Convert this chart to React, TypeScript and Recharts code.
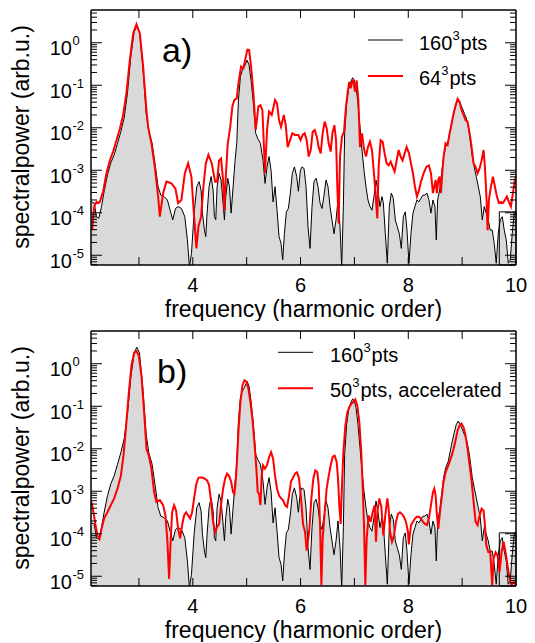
import React from 'react';
import { ComposedChart, Area, Line, XAxis, YAxis, ReferenceArea } from 'recharts';

type Pt = [number, number];
const FONT = '"Liberation Sans", Arial, Helvetica, sans-serif';

// frequency (harmonic order), spectral power (arb.u.)
const spectrum160: Pt[] = [
  [2.12,1.8e-4],[2.17,1.7e-4],[2.21,8.1e-5],[2.255,7.4e-5],[2.305,1.4e-4],[2.354,3.2e-4],[2.416,7.8e-4],[2.478,1.5e-3],
  [2.54,2.3e-3],[2.602,4.3e-3],[2.664,8.1e-3],[2.725,1.7e-2],[2.787,6.5e-2],[2.849,0.47],[2.911,1.8],[2.96,2.45],
  [3.01,1.8],[3.072,0.275],[3.134,2.2e-2],[3.183,8.1e-3],[3.245,4.3e-3],[3.307,1.2e-3],[3.356,4.1e-4],[3.406,2.6e-4],
  [3.468,2.4e-4],[3.529,2.0e-4],[3.579,1.15e-4],[3.628,6.8e-5],[3.678,1.26e-4],[3.727,1.4e-4],[3.789,1.26e-4],[3.851,8.1e-5],
  [3.9,2.3e-5],[3.937,5.4e-6],[3.975,1.1e-5],[4.024,9.8e-5],[4.074,4.1e-4],[4.117,5.4e-4],[4.154,3.4e-4],[4.179,9.8e-5],
  [4.216,3.9e-5],[4.241,2.75e-5],[4.265,9.8e-5],[4.302,4.1e-4],[4.34,7.1e-4],[4.377,3.4e-4],[4.401,8.1e-5],[4.426,6.8e-5],
  [4.451,4.1e-4],[4.488,8.5e-4],[4.525,5.9e-4],[4.562,1.7e-4],[4.587,6.8e-5],[4.612,2.4e-4],[4.649,6.5e-4],[4.68,4.1e-4],
  [4.711,9.8e-5],[4.748,4.1e-4],[4.785,1.7e-3],[4.816,4.3e-3],[4.847,4.5e-2],[4.884,0.16],[4.921,0.23],[4.958,0.275],
  [5.007,0.39],[5.044,0.3],[5.082,0.13],[5.125,3.7e-2],[5.168,7.4e-3],[5.205,5.6e-3],[5.255,4.3e-3],[5.304,1.7e-3],
  [5.341,4.9e-4],[5.378,1.2e-3],[5.415,2.1e-3],[5.453,1.0e-3],[5.49,1.8e-4],[5.527,4.1e-4],[5.564,1.15e-4],[5.601,2.75e-5],
  [5.638,1.9e-5],[5.669,7.8e-6],[5.7,3.2e-5],[5.737,1.05e-4],[5.774,1.26e-4],[5.811,2.9e-4],[5.848,8.5e-4],[5.886,1.2e-3],
  [5.929,7.1e-4],[5.96,3.2e-4],[5.997,1.0e-3],[6.028,1.2e-3],[6.065,1.1e-3],[6.102,4.1e-4],[6.139,4.7e-5],[6.176,1.45e-5],
  [6.213,1.4e-4],[6.25,5.4e-4],[6.288,6.5e-4],[6.325,4.1e-4],[6.362,1.7e-4],[6.399,1.26e-4],[6.436,2.6e-4],[6.473,5.9e-4],
  [6.51,4.1e-4],[6.547,1.4e-4],[6.584,6.8e-5],[6.621,3.2e-5],[6.659,6.8e-5],[6.696,2.0e-4],[6.733,4.7e-5],[6.764,5.4e-6],
  [6.795,1.4e-4],[6.819,7.4e-3],[6.856,3.7e-2],[6.894,8.5e-2],[6.931,0.12],[6.968,0.15],[6.999,0.13],[7.03,9.3e-2],
  [7.067,3.7e-2],[7.104,1.05e-2],[7.141,3.0e-3],[7.178,1.0e-3],[7.215,4.1e-4],[7.252,2.0e-4],[7.289,1.4e-4],[7.326,1.15e-4],
  [7.363,2.4e-4],[7.401,5.9e-4],[7.438,3.2e-4],[7.475,1.4e-4],[7.512,2.4e-4],[7.537,1.7e-4],[7.574,3.2e-5],[7.611,6.5e-6],
  [7.648,1.4e-4],[7.685,2.9e-4],[7.722,2.2e-4],[7.759,6.8e-5],[7.796,4.7e-5],[7.834,3.2e-5],[7.871,1.45e-5],[7.908,8.1e-5],
  [7.945,1.05e-4],[7.976,3.9e-5],[8.013,6.5e-6],[8.05,3.2e-5],[8.087,9.8e-5],[8.124,1.4e-4],[8.161,2.0e-4],[8.199,1.8e-4],
  [8.236,2.2e-4],[8.273,2.6e-4],[8.31,2.6e-4],[8.347,2.9e-4],[8.384,2.0e-4],[8.421,9.8e-5],[8.458,2.0e-4],[8.495,1.4e-4],
  [8.52,2.3e-5],[8.545,2.0e-4],[8.582,3.4e-4],[8.619,8.5e-4],[8.656,2.1e-3],[8.693,3.5e-3],[8.743,5.1e-3],[8.78,8.9e-3],
  [8.817,1.5e-2],[8.854,2.4e-2],[8.891,3.7e-2],[8.928,4.5e-2],[8.965,3.7e-2],[9.002,2.9e-2],[9.04,2.2e-2],[9.077,1.7e-2],
  [9.114,1.05e-2],[9.151,5.1e-3],[9.188,2.1e-3],[9.225,1.2e-3],[9.262,7.1e-4],[9.3,4.1e-4],[9.337,2.4e-4],[9.374,6.8e-5],
  [9.411,1.4e-4],[9.448,9.8e-5],[9.485,6.8e-5],[9.522,3.9e-5],[9.559,3.9e-5],[9.596,1.9e-5],[9.633,6.5e-6],[9.67,3.2e-5],
  [9.708,6.8e-5],[9.745,8.1e-5],[9.782,3.9e-5],[9.819,2.3e-5],[9.856,6.5e-6],[9.893,7.8e-6],[9.93,3.2e-5],[9.967,9.8e-5],
  [10.0,1.15e-4],
];

const spectrum64: Pt[] = [
  [2.132,3.9e-5],[2.17,1.4e-4],[2.212,1.8e-4],[2.25,1.7e-4],[2.274,1.8e-4],[2.336,3.2e-4],[2.397,8.5e-4],[2.46,1.7e-3],
  [2.521,2.75e-3],[2.583,5.1e-3],[2.646,9.5e-3],[2.707,2.0e-2],[2.768,6.5e-2],[2.831,0.39],[2.892,1.66],[2.954,2.75],
  [3.017,1.66],[3.078,0.275],[3.139,2.6e-2],[3.171,1.05e-2],[3.232,4.3e-3],[3.295,1.2e-3],[3.356,2.4e-4],[3.388,8.1e-5],
  [3.449,2.9e-4],[3.51,5.4e-4],[3.603,4.9e-4],[3.677,3.7e-4],[3.727,1.7e-4],[3.788,2.0e-4],[3.852,8.5e-4],[3.913,1.45e-3],
  [3.974,7.1e-4],[4.024,8.1e-5],[4.067,1.45e-5],[4.104,4.7e-5],[4.154,8.1e-5],[4.197,4.1e-4],[4.241,1.45e-3],[4.29,2.3e-3],
  [4.352,1.45e-3],[4.414,5.4e-4],[4.451,5.4e-4],[4.488,1.7e-3],[4.525,1.9e-3],[4.562,5.9e-4],[4.587,1.15e-4],[4.612,7.1e-4],
  [4.649,4.3e-3],[4.692,9.8e-3],[4.735,3.2e-2],[4.772,4.5e-2],[4.816,4.9e-2],[4.847,0.11],[4.896,0.275],[4.939,0.25],
  [4.97,0.39],[5.013,0.69],[5.044,0.68],[5.082,0.275],[5.125,6.5e-2],[5.168,8.9e-3],[5.218,3.2e-2],[5.255,3.4e-2],
  [5.292,2.6e-2],[5.341,8.5e-4],[5.378,8.9e-3],[5.415,2.4e-2],[5.465,2.0e-2],[5.527,4.5e-2],[5.564,3.7e-2],[5.601,1.5e-2],
  [5.638,1.05e-2],[5.688,2.0e-2],[5.725,1.15e-2],[5.762,3.5e-3],[5.805,5.1e-3],[5.848,7.4e-3],[5.898,6.8e-3],[5.96,6.8e-3],
  [6.0,5.1e-3],[6.04,6.8e-3],[6.077,7.4e-3],[6.114,5.1e-3],[6.152,2.1e-3],[6.189,3.0e-3],[6.226,8.1e-3],[6.263,8.9e-3],
  [6.3,6.2e-3],[6.337,3.5e-3],[6.374,2.5e-3],[6.411,7.4e-3],[6.448,1.4e-2],[6.485,9.8e-3],[6.522,4.3e-3],[6.56,2.75e-3],
  [6.591,7.4e-3],[6.628,1.15e-2],[6.659,5.1e-3],[6.683,4.1e-4],[6.708,5.6e-5],[6.733,2.1e-3],[6.77,6.2e-3],[6.807,8.1e-3],
  [6.844,3.2e-2],[6.881,7.8e-2],[6.906,0.12],[6.931,8.5e-2],[6.955,0.12],[6.98,0.13],[7.011,7.1e-2],[7.042,0.13],
  [7.073,4.5e-2],[7.104,3.5e-3],[7.141,7.4e-3],[7.178,3.2e-3],[7.215,2.1e-3],[7.252,3.5e-3],[7.289,4.7e-3],[7.326,3.0e-3],
  [7.363,8.5e-4],[7.401,2.0e-4],[7.425,7.4e-5],[7.45,1.2e-3],[7.487,5.1e-3],[7.524,4.7e-3],[7.561,2.5e-3],[7.599,1.45e-3],
  [7.636,1.3e-3],[7.673,1.6e-3],[7.71,1.2e-3],[7.747,9.3e-4],[7.784,1.7e-3],[7.821,3.0e-3],[7.858,2.1e-3],[7.895,1.7e-3],
  [7.933,2.5e-3],[7.97,3.5e-3],[8.013,2.5e-3],[8.05,1.45e-3],[8.087,8.5e-4],[8.124,4.1e-4],[8.161,2.4e-4],[8.199,3.4e-4],
  [8.236,5.4e-4],[8.285,8.5e-4],[8.335,1.2e-3],[8.384,1.3e-3],[8.421,8.5e-4],[8.458,2.9e-4],[8.483,4.1e-4],[8.508,5.9e-4],
  [8.532,2.9e-4],[8.557,5.9e-4],[8.582,7.1e-4],[8.607,2.9e-4],[8.631,8.5e-4],[8.656,2.1e-3],[8.693,4.3e-3],[8.73,3.9e-3],
  [8.768,7.4e-3],[8.805,1.26e-2],[8.842,2.2e-2],[8.879,3.4e-2],[8.916,4.8e-2],[8.953,4.1e-2],[8.99,2.6e-2],[9.027,2.0e-2],
  [9.064,1.5e-2],[9.101,1.4e-2],[9.139,7.4e-3],[9.176,3.5e-3],[9.213,1.45e-3],[9.25,1.2e-3],[9.287,8.5e-4],[9.324,1.1e-3],
  [9.361,1.7e-3],[9.398,3.0e-3],[9.423,1.2e-3],[9.448,2.9e-4],[9.473,3.9e-5],[9.497,2.0e-4],[9.534,4.1e-4],[9.572,7.1e-4],
  [9.609,4.1e-4],[9.646,2.4e-4],[9.683,1.7e-4],[9.72,1.8e-4],[9.757,1.7e-4],[9.794,2.0e-4],[9.831,2.4e-4],[9.868,1.8e-4],
  [9.905,1.4e-4],[9.943,2.9e-4],[9.98,5.9e-4],[10.0,7.1e-4],
];

const spectrum50acc: Pt[] = [
  [2.119,5.6e-4],[2.156,3.2e-4],[2.194,1.6e-4],[2.231,9.1e-5],[2.268,7.6e-5],[2.305,1.3e-4],[2.354,2.3e-4],[2.416,3.2e-4],
  [2.478,4.7e-4],[2.54,6.8e-4],[2.602,1.15e-3],[2.664,2.3e-3],[2.713,6.9e-3],[2.762,3.5e-2],[2.812,0.21],[2.861,0.91],
  [2.911,1.8],[2.954,2.0],[2.997,1.55],[3.047,0.52],[3.096,7.2e-2],[3.14,1.0e-2],[3.183,6.9e-3],[3.232,3.4e-3],
  [3.282,9.5e-4],[3.325,5.6e-4],[3.387,6.2e-4],[3.449,4.7e-4],[3.492,2.7e-4],[3.529,6.5e-5],[3.56,8.7e-6],[3.591,7.8e-5],
  [3.616,3.2e-4],[3.653,4.7e-4],[3.69,3.5e-4],[3.727,1.3e-4],[3.764,7.8e-5],[3.801,1.6e-4],[3.838,2.7e-4],[3.876,3.2e-4],
  [3.913,2.7e-4],[3.95,2.3e-4],[3.987,3.2e-4],[4.024,6.8e-4],[4.061,1.4e-3],[4.098,2.0e-3],[4.117,2.1e-3],[4.166,2.1e-3],
  [4.216,2.0e-3],[4.265,1.8e-3],[4.302,1.4e-3],[4.34,5.6e-4],[4.377,1.9e-4],[4.414,1.1e-4],[4.451,1.45e-4],[4.488,1.7e-4],
  [4.525,4.7e-4],[4.562,1.15e-3],[4.6,2.0e-3],[4.636,2.6e-3],[4.673,2.3e-3],[4.711,1.7e-3],[4.748,9.5e-4],[4.772,8.7e-4],
  [4.797,1.7e-3],[4.822,5.9e-3],[4.847,2.5e-2],[4.884,0.126],[4.921,0.31],[4.958,0.41],[4.995,0.38],[5.032,0.26],
  [5.069,0.126],[5.106,5.1e-2],[5.143,1.45e-2],[5.18,3.4e-3],[5.205,9.5e-4],[5.23,8.7e-4],[5.255,4.7e-4],[5.279,2.3e-3],
  [5.304,4.1e-3],[5.341,3.4e-3],[5.378,4.1e-3],[5.415,6.3e-3],[5.453,8.3e-3],[5.49,5.9e-3],[5.527,2.3e-3],[5.564,1.15e-3],
  [5.601,7.9e-4],[5.638,6.8e-4],[5.675,6.2e-4],[5.712,4.7e-4],[5.749,4.3e-4],[5.786,7.9e-4],[5.823,1.7e-3],[5.861,2.1e-3],
  [5.898,2.6e-3],[5.935,2.8e-3],[5.972,2.0e-3],[6.009,6.8e-4],[6.046,1.7e-4],[6.083,1.1e-4],[6.115,4.0e-5],[6.145,7.9e-5],
  [6.164,1.3e-4],[6.201,6.8e-4],[6.238,2.0e-3],[6.275,3.1e-3],[6.312,2.8e-3],[6.337,1.4e-3],[6.362,1.6e-4],[6.387,6.2e-6],
  [6.411,7.8e-5],[6.448,3.2e-4],[6.485,1.15e-3],[6.523,2.3e-3],[6.56,4.1e-3],[6.597,6.5e-3],[6.634,6.9e-3],[6.671,4.9e-3],
  [6.696,2.0e-3],[6.72,4.7e-4],[6.745,1.7e-4],[6.77,1.4e-3],[6.795,8.3e-3],[6.832,3.5e-2],[6.869,7.2e-2],[6.906,9.5e-2],
  [6.943,0.115],[6.98,0.126],[7.017,0.145],[7.054,0.105],[7.091,4.3e-2],[7.128,8.3e-3],[7.153,1.4e-3],[7.178,1.6e-4],
  [7.203,6.2e-6],[7.228,7.8e-5],[7.265,2.7e-4],[7.302,1.9e-4],[7.339,3.2e-4],[7.376,4.7e-4],[7.401,6.5e-5],[7.426,3.2e-4],
  [7.463,6.8e-4],[7.5,4.3e-4],[7.537,9.1e-5],[7.574,2.7e-4],[7.611,6.8e-4],[7.636,3.9e-4],[7.661,1.1e-4],[7.698,6.5e-5],
  [7.735,9.1e-5],[7.772,1.9e-4],[7.809,2.9e-4],[7.846,3.2e-4],[7.883,2.9e-4],[7.92,2.5e-4],[7.957,1.9e-4],[7.994,1.1e-4],
  [8.01,5.6e-5],[8.05,1.6e-4],[8.087,1.9e-4],[8.124,2.3e-4],[8.161,2.5e-4],[8.199,2.5e-4],[8.236,2.3e-4],[8.273,1.9e-4],
  [8.31,1.7e-4],[8.347,1.6e-4],[8.384,2.3e-4],[8.421,4.7e-4],[8.458,9.5e-4],[8.483,1.15e-3],[8.508,7.9e-4],[8.532,2.7e-4],
  [8.557,1.3e-4],[8.582,2.7e-4],[8.619,6.8e-4],[8.656,1.7e-3],[8.693,2.8e-3],[8.73,3.7e-3],[8.768,4.9e-3],[8.805,6.9e-3],
  [8.842,1.0e-2],[8.879,1.6e-2],[8.916,2.7e-2],[8.953,3.5e-2],[8.99,3.9e-2],[9.027,3.2e-2],[9.064,2.0e-2],[9.101,1.0e-2],
  [9.139,4.1e-3],[9.176,1.7e-3],[9.213,5.6e-4],[9.25,1.9e-4],[9.287,1.6e-4],[9.324,2.7e-4],[9.361,3.9e-4],[9.398,3.5e-4],
  [9.423,1.6e-4],[9.448,5.4e-5],[9.485,3.7e-5],[9.522,3.7e-5],[9.559,6.2e-6],[9.584,2.6e-5],[9.621,3.7e-5],[9.658,3.1e-5],
  [9.695,1.26e-5],[9.732,3.7e-5],[9.769,6.5e-5],[9.806,3.7e-5],[9.843,1.8e-5],[9.88,8.7e-6],[9.917,6.2e-6],[9.955,7.4e-6],
  [10.0,6.3e-6],
];

const X_DOMAIN: [number, number] = [2.11, 10];
const X_TICKS = [3, 4, 5, 6, 7, 8, 9, 10];
const X_LABELS = [4, 6, 8, 10];
const Y_DOMAIN: [number, number] = [5.9e-6, 5.9];
const Y_DECADES = [1e-6, 1e-5, 1e-4, 1e-3, 1e-2, 1e-1, 1];
const Y_MANTISSAS = [1, 2, 3, 4, 5, 6, 7, 8, 9];
const Y_TICKS = Y_DECADES.flatMap((d) => Y_MANTISSAS.map((m) => m * d)).filter(
  (v) => v >= Y_DOMAIN[0] && v <= Y_DOMAIN[1]
);
const ARTIFACT_BOX = { x1: 9.69, x2: 10, yTop: 1.05e-4 };

const toRows = (pts: Pt[]) => pts.map(([f, p]) => ({ f, p }));

const isDecade = (v: number) => {
  const lg = Math.log10(v);
  return Math.abs(lg - Math.round(lg)) < 1e-6;
};

const BottomTick = (props: any) => {
  const { x, y, payload } = props;
  const v = payload.value;
  return (
    <g>
      {v < X_DOMAIN[1] && <line x1={x} x2={x} y1={y} y2={y - 8} stroke="#000" strokeWidth={1} />}
      {X_LABELS.includes(v) && (
        <text x={x} y={y + 26.5} textAnchor="middle" fontSize={20} fontFamily={FONT} fill="#000">
          {v}
        </text>
      )}
    </g>
  );
};

const TopTick = (props: any) => {
  const { x, y, payload } = props;
  if (payload.value >= X_DOMAIN[1]) return <g />;
  return <line x1={x} x2={x} y1={y} y2={y + 8} stroke="#000" strokeWidth={1} />;
};

const LeftTick = (props: any) => {
  const { x, y, payload } = props;
  const v = payload.value;
  const major = isDecade(v);
  const exp = Math.round(Math.log10(v));
  return (
    <g>
      <line x1={x} x2={x + (major ? 11 : 6)} y1={y} y2={y} stroke="#000" strokeWidth={1} />
      {major && (
        <g fontFamily={FONT} fill="#000">
          <text x={x - 19} y={y + 12.5} textAnchor="end" fontSize={20}>10</text>
          <text x={x - 18.5} y={y + 2.5} textAnchor="start" fontSize={13}>{String(exp)}</text>
        </g>
      )}
    </g>
  );
};

const RightTick = (props: any) => {
  const { x, y, payload } = props;
  const major = isDecade(payload.value);
  return <line x1={x} x2={x - (major ? 11 : 6)} y1={y} y2={y} stroke="#000" strokeWidth={1} />;
};

type PanelProps = {
  redData: Pt[];
  redLabelMain: string;
  redLabelRest: string;
  panelLabel: string;
  panelLabelX: number;
  legendLineX: [number, number];
  legendTextX: number;
  legendY: [number, number];
};

const Panel = ({ redData, redLabelMain, redLabelRest, panelLabel, panelLabelX, legendLineX, legendTextX, legendY }: PanelProps) => {
  const blackRows = toRows(spectrum160);
  const redRows = toRows(redData);
  const axisLine = { stroke: '#000', strokeWidth: 1.5 };
  return (
    <ComposedChart width={535} height={321} margin={{ top: 0, right: 0, bottom: 0, left: 0 }}>
      <XAxis
        xAxisId="bottom"
        type="number"
        dataKey="f"
        orientation="bottom"
        domain={X_DOMAIN}
        allowDataOverflow
        ticks={X_TICKS}
        interval={0}
        height={56}
        tickSize={0}
        tickMargin={0}
        tickLine={false}
        axisLine={axisLine}
        tick={<BottomTick />}
      />
      <XAxis
        xAxisId="top"
        type="number"
        dataKey="f"
        orientation="top"
        domain={X_DOMAIN}
        allowDataOverflow
        ticks={X_TICKS}
        interval={0}
        height={10}
        tickSize={0}
        tickMargin={0}
        tickLine={false}
        axisLine={axisLine}
        tick={<TopTick />}
      />
      <YAxis
        yAxisId="left"
        orientation="left"
        scale="log"
        type="number"
        domain={Y_DOMAIN}
        allowDataOverflow
        ticks={Y_TICKS}
        interval={0}
        width={91}
        tickSize={0}
        tickMargin={0}
        tickLine={false}
        axisLine={axisLine}
        tick={<LeftTick />}
      />
      <YAxis
        yAxisId="right"
        orientation="right"
        scale="log"
        type="number"
        domain={Y_DOMAIN}
        allowDataOverflow
        ticks={Y_TICKS}
        interval={0}
        width={19}
        tickSize={0}
        tickMargin={0}
        tickLine={false}
        axisLine={axisLine}
        tick={<RightTick />}
      />
      <Area
        xAxisId="bottom"
        yAxisId="left"
        data={blackRows}
        dataKey="p"
        type="linear"
        stroke="#000"
        strokeWidth={1}
        fill="#d9d9d9"
        fillOpacity={1}
        baseValue="dataMin"
        dot={false}
        activeDot={false}
        isAnimationActive={false}
      />
      <ReferenceArea
        xAxisId="bottom"
        yAxisId="left"
        x1={ARTIFACT_BOX.x1}
        x2={ARTIFACT_BOX.x2}
        y1={Y_DOMAIN[0]}
        y2={ARTIFACT_BOX.yTop}
        fill="none"
        stroke="#000"
        strokeWidth={1}
      />
      <Line
        xAxisId="top"
        yAxisId="right"
        data={redRows}
        dataKey="p"
        type="linear"
        stroke="#ff0000"
        strokeWidth={2}
        dot={false}
        activeDot={false}
        isAnimationActive={false}
      />
      <text x={panelLabelX} y={62} fontSize={34} fontFamily={FONT} fill="#000">{panelLabel}</text>
      <text
        x={28.5}
        y={137}
        transform="rotate(-90 28.5 137)"
        textAnchor="middle"
        fontSize={23}
        fontFamily={FONT}
        fill="#000"
      >
        spectralpower (arb.u.)
      </text>
      <text x={303.5} y={317} textAnchor="middle" fontSize={23} fontFamily={FONT} fill="#000">
        frequency (harmonic order)
      </text>
      <g fontFamily={FONT} fill="#000">
        <line x1={legendLineX[0]} x2={legendLineX[1]} y1={legendY[0]} y2={legendY[0]} stroke="#000" strokeWidth={1} />
        <text x={legendTextX} y={legendY[0] + 9.5} fontSize={20}>
          160<tspan dy={-10} fontSize={13}>3</tspan><tspan dy={10} dx={1}>pts</tspan>
        </text>
        <line x1={legendLineX[0]} x2={legendLineX[1]} y1={legendY[1]} y2={legendY[1]} stroke="#ff0000" strokeWidth={2} />
        <text x={legendTextX} y={legendY[1] + 9} fontSize={20}>
          {redLabelMain}<tspan dy={-10} fontSize={13}>3</tspan><tspan dy={10} dx={1}>{redLabelRest}</tspan>
        </text>
      </g>
    </ComposedChart>
  );
};

export default function App() {
  return (
    <div style={{ position: 'absolute', left: 0, top: 0, width: 535, height: 643, background: '#fff' }}>
      <Panel
        redData={spectrum64}
        redLabelMain="64"
        redLabelRest="pts"
        panelLabel="a)"
        panelLabelX={162}
        legendLineX={[368, 403]}
        legendTextX={419}
        legendY={[40, 76]}
      />
      <Panel
        redData={spectrum50acc}
        redLabelMain="50"
        redLabelRest="pts, accelerated"
        panelLabel="b)"
        panelLabelX={157}
        legendLineX={[278, 313]}
        legendTextX={330}
        legendY={[31.3, 67.3]}
      />
    </div>
  );
}
